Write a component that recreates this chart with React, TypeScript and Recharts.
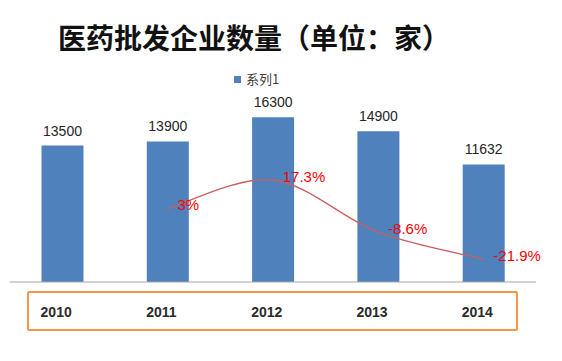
import React from 'react';
import { ComposedChart, Bar, Line, XAxis, YAxis, LabelList } from 'recharts';

const years = ['2010', '2011', '2012', '2013', '2014'];
const counts = [13500, 13900, 16300, 14900, 11632];
const growth: (number | null)[] = [null, 3, 17.3, -8.6, -21.9];
const seriesName = '系列1';
const title = '医药批发企业数量（单位：家）';
const barColor = '#4F81BD';

const data = years.map((y, i) => ({ year: y, count: counts[i], growth: growth[i] }));

// Catmull-Rom style smoothing, similar to a spreadsheet "smoothed line"
const smoothCurve = (context: any) => {
  let pts: [number, number][] = [];
  return {
    areaStart() {},
    areaEnd() {},
    lineStart() { pts = []; },
    point(x: number, y: number) { pts.push([+x, +y]); },
    lineEnd() {
      if (!pts.length) return;
      context.moveTo(pts[0][0], pts[0][1]);
      for (let i = 0; i < pts.length - 1; i++) {
        const p0 = pts[i - 1] || pts[i];
        const p1 = pts[i];
        const p2 = pts[i + 1];
        const p3 = pts[i + 2] || p2;
        const c1x = p1[0] + (p2[0] - p0[0]) / 6;
        const c1y = p1[1] + (p2[1] - p0[1]) / 6;
        const c2x = p2[0] - (p3[0] - p1[0]) / 6;
        const c2y = p2[1] - (p3[1] - p1[1]) / 6;
        context.bezierCurveTo(c1x, c1y, c2x, c2y, p2[0], p2[1]);
      }
    },
  };
};

const YearTick = (props: any) => {
  const { x, y, payload } = props;
  return (
    <text x={x - 6} y={y + 30} textAnchor="middle" dominantBaseline="central"
      fontSize={14} fontWeight="bold" fill="#2b2b2b" fontFamily="'Liberation Sans', Arial, sans-serif">
      {payload.value}
    </text>
  );
};

const GrowthLabel = (props: any) => {
  const { x, y, value } = props;
  if (value === null || value === undefined) return null;
  return (
    <text x={x + 10} y={y - 4} dominantBaseline="central" fontSize={15} fill="#FF0000"
      fontFamily="'Liberation Sans', Arial, sans-serif">
      {`${value}%`}
    </text>
  );
};

export default function App() {
  return (
    <div style={{ position: 'absolute', left: 0, top: 0, width: 562, height: 361, background: '#fff', overflow: 'hidden' }}>
      <div style={{ position: 'absolute', left: 58, top: 18, fontSize: 28, fontWeight: 'bold', color: '#111',
        fontFamily: "'Noto Sans CJK SC', sans-serif", lineHeight: '38px', whiteSpace: 'nowrap' }}>
        {title}
      </div>
      <div style={{ position: 'absolute', left: 234, top: 71, display: 'flex', alignItems: 'center' }}>
        <span style={{ width: 7, height: 7, background: barColor, display: 'inline-block', marginRight: 5 }} />
        <span style={{ fontSize: 13, color: '#404040', fontFamily: "'Noto Sans CJK SC', sans-serif", lineHeight: '16px' }}>{seriesName}</span>
      </div>
      <ComposedChart width={562} height={361} data={data} margin={{ top: 100, right: 26, bottom: 49, left: 9.5 }}>
        <XAxis dataKey="year" height={30} tick={<YearTick />} tickLine={false} tickSize={0} tickMargin={0}
          axisLine={{ stroke: '#A6A6A6', strokeWidth: 1 }} interval={0} />
        <YAxis yAxisId="left" hide domain={[0, 18000]} />
        <YAxis yAxisId="right" orientation="right" hide domain={[-33.3, 57]} />
        <Bar yAxisId="left" dataKey="count" name={seriesName} fill={barColor} barSize={42} isAnimationActive={false}>
          <LabelList dataKey="count" position="top" offset={10} fontSize={14} fill="#262626"
            fontFamily="'Liberation Sans', Arial, sans-serif" />
        </Bar>
        <Line yAxisId="right" dataKey="growth" type={smoothCurve as any} stroke="#C9605D" strokeWidth={1.3}
          dot={false} legendType="none" isAnimationActive={false}>
          <LabelList dataKey="growth" content={<GrowthLabel />} />
        </Line>
      </ComposedChart>
      <div style={{ position: 'absolute', left: 27, top: 291, width: 491, height: 40, border: '2px solid #F79646',
        boxSizing: 'border-box', borderRadius: 2 }} />
    </div>
  );
}
